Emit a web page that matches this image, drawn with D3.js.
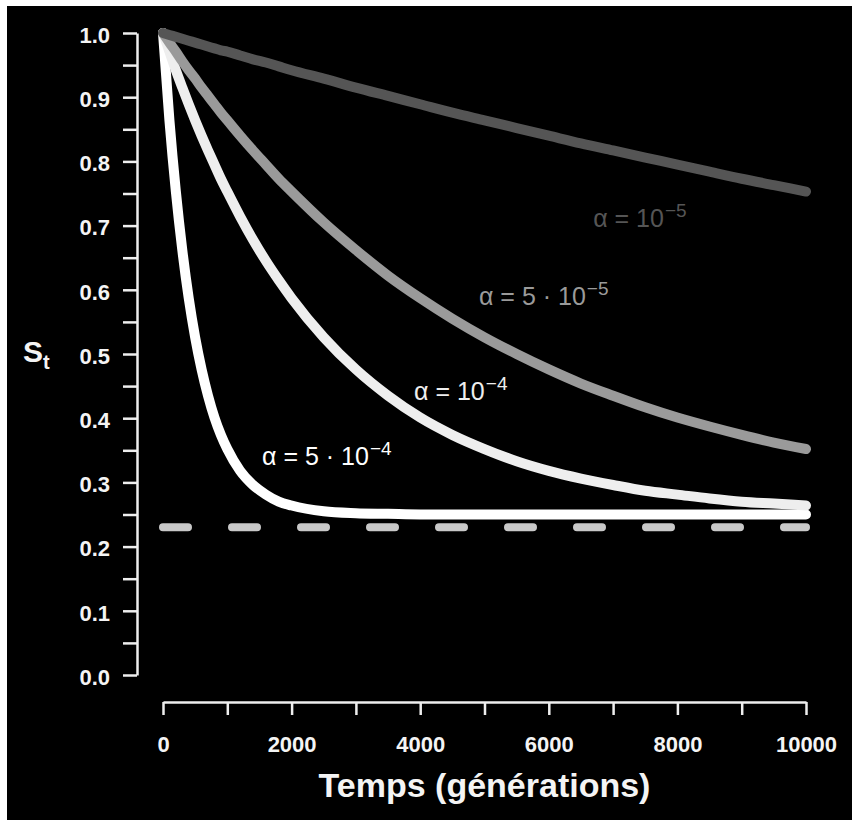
<!DOCTYPE html>
<html>
<head>
<meta charset="utf-8">
<script src="https://cdn.jsdelivr.net/npm/d3@7"></script>
<style>
  html, body { margin: 0; padding: 0; background: #ffffff; }
  svg { display: block; }
  text { font-family: "Liberation Sans", Arial, Helvetica, sans-serif; }
</style>
</head>
<body>
<svg id="chart" width="858" height="825"></svg>
<script>
// ---- Data ----
const times = [0,100,200,300,400,500,600,700,800,900,1000,1200,1400,1600,1800,2000,
  2500,3000,3500,4000,4500,5000,5500,6000,6500,7000,7500,8000,8500,9000,9500,10000];

const sAlpha1e5 = [1.000,0.997,0.994,0.991,0.988,0.985,0.982,0.979,0.976,0.973,0.971,0.965,0.959,0.954,0.948,0.942,
  0.929,0.915,0.902,0.889,0.876,0.864,0.852,0.840,0.828,0.817,0.806,0.795,0.784,0.773,0.763,0.753];
const sAlpha5e5 = [1.000,0.985,0.971,0.956,0.942,0.929,0.915,0.902,0.889,0.876,0.864,0.840,0.817,0.795,0.773,0.753,
  0.705,0.662,0.622,0.587,0.555,0.526,0.500,0.476,0.454,0.435,0.417,0.401,0.387,0.374,0.362,0.352];
const sAlpha1e4 = [1.000,0.971,0.942,0.915,0.889,0.864,0.840,0.817,0.795,0.773,0.753,0.714,0.678,0.645,0.615,0.587,
  0.526,0.476,0.435,0.401,0.374,0.352,0.333,0.318,0.306,0.296,0.287,0.281,0.275,0.270,0.267,0.264];
const sAlpha5e4 = [1.000,0.864,0.753,0.662,0.587,0.526,0.476,0.435,0.401,0.374,0.352,0.318,0.296,0.281,0.270,0.264,
  0.255,0.252,0.251,0.250,0.250,0.250,0.250,0.250,0.250,0.250,0.250,0.250,0.250,0.250,0.250,0.250];

const dashedLevel = 0.23;

const seriesNames  = ["1e-5", "5e-5", "1e-4", "5e-4"];
const seriesColors = ["#555555", "#9a9a9a", "#eeeeee", "#ffffff"];
const labelMain    = ["\u03B1 = 10", "\u03B1 = 5 \u00B7 10", "\u03B1 = 10", "\u03B1 = 5 \u00B7 10"];
const labelExp     = ["\u22125", "\u22125", "\u22124", "\u22124"];
const labelT       = [6690, 4914, 3904, 1540];
const labelS       = [0.698, 0.576, 0.428, 0.327];

const xTicks = [0,1000,2000,3000,4000,5000,6000,7000,8000,9000,10000];
const xTickLabels = ["0","","2000","","4000","","6000","","8000","","10000"];
const yTicks = [0,0.05,0.1,0.15,0.2,0.25,0.3,0.35,0.4,0.45,0.5,0.55,0.6,0.65,0.7,0.75,0.8,0.85,0.9,0.95,1.0];
const yTickLabels = ["0.0","","0.1","","0.2","","0.3","","0.4","","0.5","","0.6","","0.7","","0.8","","0.9","","1.0"];

const xTitle = "Temps (g\u00E9n\u00E9rations)";

// ---- Drawing ----
const svg = d3.select("#chart");
svg.append("rect").attr("x", 7).attr("y", 6).attr("width", 845).attr("height", 814).attr("fill", "#000");

const x = d3.scaleLinear().domain([0, 10000]).range([163, 806]);
const y = d3.scaleLinear().domain([0, 1]).range([675, 33]);

const axisColor = "#eeeeee";

// Y axis
const yAxis = d3.axisLeft(y).tickValues(yTicks).tickSize(14).tickSizeOuter(0).tickPadding(13)
  .tickFormat((d, i) => yTickLabels[i]);
const gy = svg.append("g").attr("transform", "translate(137,0)").call(yAxis);
gy.select(".domain").attr("stroke", axisColor).attr("stroke-width", 2.5);
gy.selectAll(".tick line").attr("stroke", axisColor).attr("stroke-width", 2.5);
gy.selectAll(".tick text").attr("fill", "#f4f4f4").attr("font-size", 22).attr("font-weight", "bold")
  .attr("dy", "0.42em").attr("font-family", "Liberation Sans, Arial, sans-serif");

// X axis
const xAxis = d3.axisBottom(x).tickValues(xTicks).tickSize(13).tickSizeOuter(0).tickPadding(21)
  .tickFormat((d, i) => xTickLabels[i]);
const gx = svg.append("g").attr("transform", "translate(0,702)").call(xAxis);
gx.select(".domain").attr("stroke", axisColor).attr("stroke-width", 2.5);
gx.selectAll(".tick line").attr("stroke", axisColor).attr("stroke-width", 2.5);
gx.selectAll(".tick text").attr("fill", "#f4f4f4").attr("font-size", 22).attr("font-weight", "bold")
  .attr("font-family", "Liberation Sans, Arial, sans-serif");

// Axis titles
svg.append("text").attr("x", (x(0) + x(10000)) / 2).attr("y", 797)
  .attr("text-anchor", "middle").attr("fill", "#f4f4f4").attr("font-size", 34).attr("font-weight", "bold")
  .text(xTitle);

const st = svg.append("text").attr("x", 23).attr("y", 362).attr("fill", "#f4f4f4").attr("font-weight", "bold");
st.append("tspan").attr("font-size", 30).text("S");
st.append("tspan").attr("font-size", 20).attr("dy", 7).text("t");

// Dashed asymptote-like line
svg.append("line")
  .attr("x1", x(0)).attr("x2", x(10000))
  .attr("y1", y(dashedLevel)).attr("y2", y(dashedLevel))
  .attr("stroke", "#c8c8c8").attr("stroke-width", 8)
  .attr("stroke-dasharray", "25,44").attr("stroke-linecap", "round");

// Curves
const allSeries = [sAlpha1e5, sAlpha5e5, sAlpha1e4, sAlpha5e4];
const line = d3.line().x((d, i) => x(times[i])).y(d => y(d)).curve(d3.curveMonotoneX);
const order = [3, 2, 1, 0];
order.forEach(k => {
  svg.append("path").datum(allSeries[k])
    .attr("d", line)
    .attr("fill", "none")
    .attr("stroke", seriesColors[k])
    .attr("stroke-width", 10)
    .attr("stroke-linecap", "round")
    .attr("stroke-linejoin", "round")
    .attr("data-series", seriesNames[k]);
});

// Curve labels
seriesNames.forEach((n, k) => {
  const t = svg.append("text").attr("x", x(labelT[k])).attr("y", y(labelS[k]))
    .attr("fill", seriesColors[k]).attr("font-size", 25);
  t.append("tspan").text(labelMain[k]);
  t.append("tspan").attr("font-size", 19).attr("dy", -10).attr("dx", 1).text(labelExp[k]);
});
</script>
</body>
</html>
